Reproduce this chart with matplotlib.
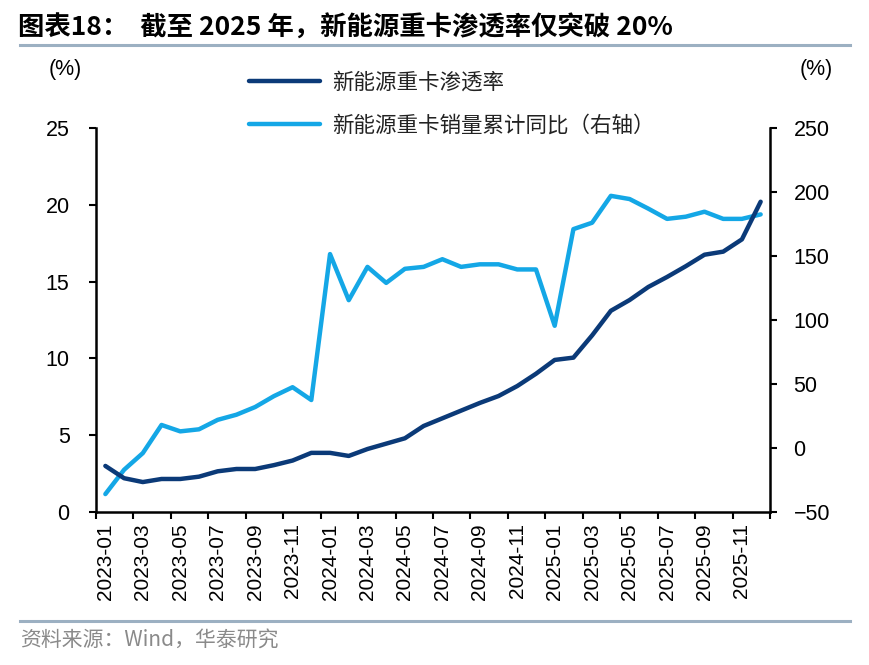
import matplotlib
matplotlib.use("Agg")
import matplotlib.pyplot as plt
from matplotlib.lines import Line2D

plt.rcParams['font.family'] = ['Liberation Sans', 'Noto Sans CJK SC', 'DejaVu Sans']

# ---- data ----
years = [2023, 2024, 2025]
months = [f"{y}-{m:02d}" for y in years for m in range(1, 13)]
penetration = [3.0, 2.2, 1.95, 2.15, 2.15, 2.3, 2.65, 2.8, 2.8, 3.05, 3.35, 3.85,
               3.85, 3.65, 4.1, 4.45, 4.8, 5.6, 6.1, 6.6, 7.1, 7.55, 8.2, 9.0,
               9.9, 10.05, 11.5, 13.1, 13.8, 14.65, 15.3, 16.0, 16.75, 16.95, 17.75, 20.2]
yoy = [-36, -17, -4, 18, 13, 14.6, 22, 26, 32, 40.5, 47.5, 37.5,
       151.5, 115.5, 141.5, 129, 140, 141.5, 147.5, 141.5, 143.5, 143.5, 139.5, 139.5,
       95.5, 171, 176, 197, 194.5, 187, 179, 180.7, 184.6, 179, 179, 182.5]
left_ticks = [0, 5, 10, 15, 20, 25]
right_ticks = [-50, 0, 50, 100, 150, 200, 250]
name_pen = "新能源重卡渗透率"
name_yoy = "新能源重卡销量累计同比（右轴）"
title = "图表18：  截至 2025 年，新能源重卡渗透率仅突破 20%"
source = "资料来源：Wind，华泰研究"

DARK = "#0b3a78"
LIGHT = "#14a7e6"
CJK = ['Noto Sans CJK SC', 'DejaVu Sans']

W, H = 870, 665
fig = plt.figure(figsize=(W / 100, H / 100), dpi=100)
ax = fig.add_axes([96 / W, 1 - 512 / H, (770 - 96) / W, (512 - 128) / H])
ax2 = ax.twinx()

x = list(range(len(months)))
l1, = ax.plot(x, penetration, color=DARK, lw=3.2, solid_capstyle='round', zorder=3)
l2, = ax2.plot(x, yoy, color=LIGHT, lw=3.2, solid_capstyle='round', zorder=2)
ax.set_zorder(ax2.get_zorder() + 1)
ax.patch.set_visible(False)

ax.set_xlim(-0.5, len(months) - 0.5)
ax.set_ylim(0, 25)
ax2.set_ylim(-50, 250)
ax.set_yticks(left_ticks)
ax2.set_yticks(right_ticks)

# x ticks: marks at category boundaries every 2, labels at even categories
ax.set_xticks([i - 0.5 for i in range(0, len(months) + 1, 2)])
ax.set_xticklabels([])
ax.set_xticks(list(range(0, len(months), 2)), minor=True)
ax.set_xticklabels(months[::2], minor=True, rotation=90, fontsize=15)
ax.tick_params(axis='x', which='minor', length=0, pad=8)
ax.tick_params(axis='x', which='major', length=5, width=1.5, direction='out')
ax.tick_params(axis='y', length=5, width=1.5, labelsize=15.5, pad=14)
ax2.tick_params(axis='y', length=5, width=1.5, labelsize=15.5, pad=12)

for a in (ax, ax2):
    a.spines['top'].set_visible(False)
    for s in ('left', 'right', 'bottom'):
        a.spines[s].set_linewidth(1.8)
ax.spines['right'].set_visible(False)
ax2.spines['left'].set_visible(False)
ax2.spines['bottom'].set_visible(False)

# unit labels
fig.text(65 / W, 1 - 70 / H, "(%)", fontsize=15.5, ha='center', va='center')
fig.text(816 / W, 1 - 70 / H, "(%)", fontsize=15.5, ha='center', va='center')

# legend
leg = fig.legend([l1, l2], [name_pen, name_yoy], loc='upper left',
                 bbox_to_anchor=(230 / W, 1 - 52 / H), frameon=False,
                 handlelength=3.3, handletextpad=0.55, labelspacing=1.0,
                 prop={'family': CJK, 'size': 15.5})
for t in leg.get_texts():
    t.set_color('#222222')

# title and separators
fig.text(18 / W, 1 - 28 / H, title, fontsize=19, fontweight='bold',
         family=CJK, ha='left', va='center')
fig.add_artist(Line2D([20 / W, 850 / W], [1 - 45 / H] * 2, color='#9cb0c2', lw=2.2))
fig.add_artist(Line2D([20 / W, 850 / W], [1 - 621 / H] * 2, color='#9cb0c2', lw=2.2))
fig.text(20 / W, 1 - 640 / H, source, fontsize=15, color='#8a8a8a',
         family=CJK, ha='left', va='center')

fig.savefig("out.png", dpi=100)
